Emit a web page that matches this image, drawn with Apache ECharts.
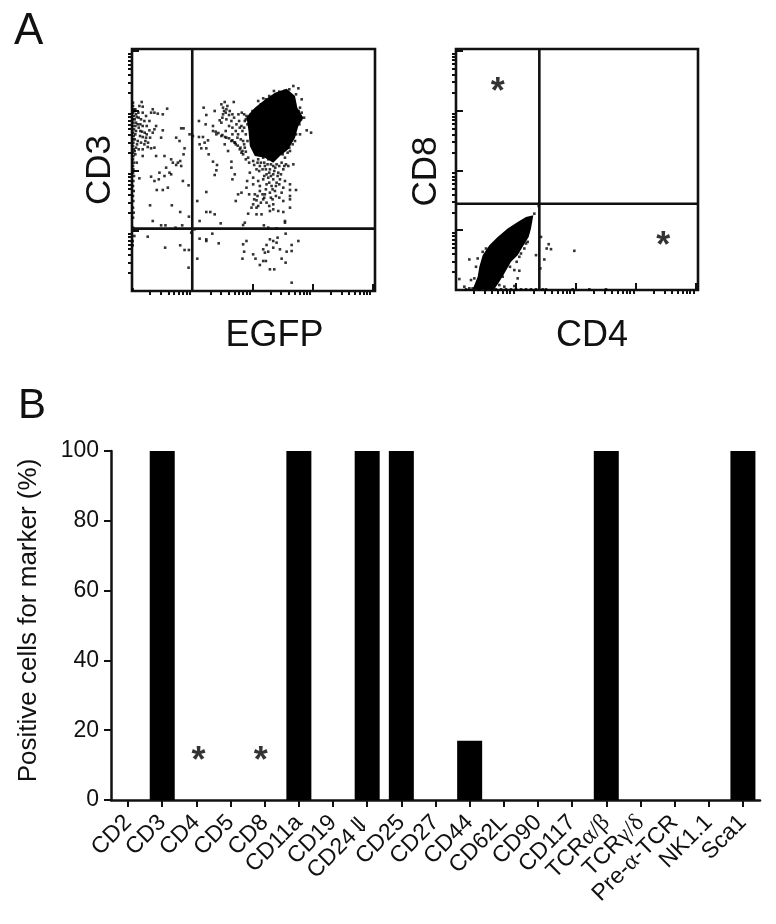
<!DOCTYPE html>
<html>
<head>
<meta charset="utf-8">
<style>
  html, body { margin: 0; padding: 0; background: #fff; }
  #chart { width: 776px; height: 924px; }
</style>
</head>
<body>
<div id="chart"></div>
<script src="https://cdn.jsdelivr.net/npm/echarts@6/dist/echarts.min.js"></script>
<script>
// panel A, flow cytometry channels (180 channels per decade)
const decadeTicks = [0, 180, 360, 540, 720];
const minorSteps = [2, 3, 4, 5, 6, 7, 8, 9];

const egfpGate = 180;
const cd3Gate = 187;
const cd4Gate = 250;
const cd8Gate = 260;

// outline of the solid black population
const egfpCd3Dense = [[462,607],[487,585],[494,550],[512,520],[497,495],[487,460],[467,425],[442,405],[422,385],[397,400],[367,405],[352,435],[348,480],[342,522],[367,550],[392,570],[427,595]];
const cd4Cd8Dense = [[232,225],[225,185],[218,160],[200,130],[185,105],[165,85],[145,50],[130,25],[115,2],[50,2],[65,40],[70,70],[80,105],[100,135],[125,160],[155,185],[185,205],[210,220]];

const egfpCd3Strip = [[3,565],[3,555],[4,545],[3,535],[5,525],[3,515],[4,505],[3,495],[6,485],[3,475],[5,465],[3,455],[4,445],[3,435],[5,425],[3,415],[4,405],[3,395],[5,385],[3,375],[4,365],[3,355],[6,345],[4,330],[3,315],[5,300],[3,285],[4,270],[3,250],[5,235],[3,220],[3,190]];
const egfpCd3Left = [[29,567],[22,555],[32,553],[10,545],[19,535],[32,535],[57,535],[67,535],[77,532],[92,530],[105,547],[62,545],[42,525],[14,522],[27,515],[37,510],[52,510],[17,500],[32,495],[44,495],[72,495],[92,482],[52,482],[12,480],[24,465],[32,462],[42,460],[54,460],[62,475],[87,460],[67,485],[17,450],[27,445],[37,440],[47,432],[57,428],[67,430],[32,425],[12,430],[32,405],[10,410],[14,385],[8,540],[12,530],[8,515],[12,505],[10,495],[20,490],[25,480],[30,478],[38,475],[44,470],[10,470],[8,455],[15,440],[8,420],[20,425],[48,445],[40,450],[25,500],[20,520]];
const egfpCd3Mid = [[132,460],[142,450],[154,488],[147,488],[172,470],[157,428],[154,410],[72,405],[97,405],[117,395],[137,385],[144,390],[147,375],[132,378],[122,385],[102,370],[112,355],[82,355],[97,345],[117,350],[57,343],[67,330],[80,335],[22,338],[107,310],[92,303],[74,303],[152,330],[169,317],[54,257],[119,257],[144,237],[170,223],[62,210],[87,197],[100,197],[130,190],[150,197]];
const egfpCd3Trail = [[200,510],[214,550],[222,528],[220,500],[182,465],[200,462],[212,462],[227,452],[217,445],[207,428],[222,428],[202,440],[247,540],[267,560],[277,567],[272,550],[282,545],[304,567],[292,540],[272,530],[282,515],[297,510],[267,505],[242,495],[242,480],[252,470],[267,465],[282,460],[297,450],[310,440],[324,430],[277,440],[287,420],[229,410],[242,388],[254,378],[252,362],[247,348],[297,388],[297,370],[307,350],[300,335],[222,297],[195,270],[222,237],[234,237],[247,230],[265,203],[310,270],[337,205],[332,198],[250,478],[258,474],[270,468],[278,462],[290,458],[300,452],[306,446],[316,436],[322,425],[330,420],[340,418],[335,440],[345,450],[340,470],[330,480],[322,490],[312,500],[305,520],[300,530],[318,530],[328,535],[335,530],[285,555],[290,528],[280,535],[275,540],[270,520],[262,512],[310,480],[300,490],[290,495],[280,480],[300,470],[325,455],[315,460],[308,445]];
const egfpCd3Cloud = [[332,410],[347,400],[362,390],[377,395],[392,400],[407,395],[422,375],[432,380],[447,385],[457,400],[472,420],[382,375],[397,375],[412,365],[402,350],[422,350],[437,355],[452,365],[467,375],[482,380],[372,365],[352,355],[362,340],[377,330],[392,335],[407,340],[422,335],[442,335],[457,330],[472,320],[344,330],[342,310],[362,320],[382,315],[402,320],[417,315],[432,325],[452,310],[472,303],[490,303],[317,290],[327,295],[350,290],[367,290],[382,300],[397,290],[412,295],[427,300],[447,295],[472,285],[392,275],[372,272],[402,265],[422,260],[452,270],[472,275],[362,260],[377,255],[357,250],[372,250],[422,245],[437,240],[452,237],[472,250],[347,232],[372,230],[387,230],[412,240],[457,205],[457,210],[394,197],[407,190],[432,188],[340,395],[350,385],[365,378],[375,385],[385,385],[395,385],[405,380],[415,380],[428,370],[440,375],[455,375],[460,380],[410,355],[415,345],[425,360],[435,345],[445,350],[400,365],[390,365],[380,360],[395,345],[430,315],[440,320],[410,325],[420,305],[400,305],[390,290],[395,280],[375,285],[385,265],[365,275],[415,280],[430,285],[440,280],[410,255],[420,275]];
const egfpCd3Rim = [[377,570],[392,578],[424,600],[482,615],[497,608],[507,575],[514,520],[522,482],[535,475],[502,550],[507,535],[502,470],[487,450],[342,525],[337,510],[327,495],[317,470],[332,450],[337,430],[327,415],[498,540],[505,515],[500,500],[495,530],[490,470],[480,440],[470,430],[450,410],[465,415],[490,590],[470,605],[455,600],[440,598],[410,585],[400,575],[385,560],[360,540],[355,530],[340,515],[320,510],[345,500],[335,490]];
const egfpCd3Lower = [[7,165],[2,150],[47,163],[2,137],[99,130],[144,137],[157,123],[170,123],[169,70],[195,97],[202,157],[222,155],[222,150],[240,172],[259,143],[177,175],[187,185],[202,210],[342,150],[332,140],[335,118],[330,97],[362,110],[369,97],[382,78],[392,90],[400,90],[412,65],[425,65],[447,97],[459,85],[477,25],[392,125],[397,115],[402,138],[412,155],[422,150],[435,160],[432,145],[422,130],[442,125],[407,118],[477,138],[497,150],[477,120],[462,118],[459,172],[2,5]];

const cd4Cd8Sparse = [[235,230],[215,145],[205,125],[190,100],[182,85],[162,70],[190,58],[175,60],[185,35],[175,12],[140,40],[145,10],[130,15],[65,95],[40,92],[10,33],[25,10],[45,30],[55,35],[40,5],[50,5],[60,70],[255,160],[278,138],[272,125],[285,123],[355,118],[240,105],[265,92],[253,65],[248,253],[350,2],[400,2],[450,2],[260,2],[270,2],[80,115],[90,125],[210,140],[195,110],[30,2],[70,2],[90,2],[105,2],[120,2],[135,2],[150,2],[165,2],[180,2],[195,2],[210,2],[225,2],[240,2]];
const cd4Cd8Stars = [[125,620],[622,156]];

// panel B
const markers = ['CD2','CD3','CD4','CD5','CD8','CD11a','CD19','CD24⇓','CD25','CD27','CD44','CD62L','CD90','CD117','TCRα/β','TCRγ/δ','Pre-α-TCR','NK1.1','Sca1'];
const positive = [0,100,0,0,0,100,0,100,100,0,17,0,0,0,100,0,0,0,100];
const markerStars = [['CD4',13.5],['CD8',13.5]];
const markerStarShift = [2, -4];
const percentTicks = { min: 0, max: 100, interval: 20 };

const minorTicks = [];
decadeTicks.slice(0, 4).forEach(d => {
  minorSteps.forEach(k => minorTicks.push(d + Math.log10(k) * 180));
});

const ink = '#111';
const font = '"Liberation Sans", Arial, sans-serif';
const chart = echarts.init(document.getElementById('chart'));

function flowAxis(gridIndex, ticks, tickLength, name, nameOpts) {
  return Object.assign({
    type: 'value',
    gridIndex,
    min: 0,
    max: 726,
    splitLine: { show: false },
    axisLine: { show: false },
    axisLabel: { show: false },
    axisTick: { show: true, customValues: ticks, length: tickLength, lineStyle: { color: ink, width: 2 } },
    name,
    nameLocation: 'middle',
  }, nameOpts);
}

function dots(data, xAxisIndex, yAxisIndex) {
  return {
    type: 'scatter',
    xAxisIndex,
    yAxisIndex,
    data,
    symbol: 'rect',
    symbolSize: 2.6,
    itemStyle: { color: '#000' },
    silent: true,
  };
}

function denseArea(data, xAxisIndex, yAxisIndex) {
  return {
    type: 'custom',
    xAxisIndex,
    yAxisIndex,
    data,
    silent: true,
    renderItem(params, api) {
      if (params.dataIndex > 0) {
        return null;
      }
      return {
        type: 'polygon',
        shape: { points: data.map(p => api.coord(p)) },
        style: { fill: '#000' },
      };
    },
  };
}

function gateLines(xGate, yGate, xAxisIndex, yAxisIndex) {
  const line = data => ({
    type: 'line',
    xAxisIndex,
    yAxisIndex,
    data,
    symbol: 'none',
    silent: true,
    lineStyle: { color: ink, width: 2.6 },
  });
  return [line([[xGate, 0], [xGate, 726]]), line([[0, yGate], [726, yGate]])];
}

function stars(data, xAxisIndex, yAxisIndex) {
  return {
    type: 'scatter',
    xAxisIndex,
    yAxisIndex,
    data,
    symbolSize: 0,
    silent: true,
    label: {
      show: true,
      position: 'inside',
      formatter: '*',
      fontFamily: font,
      fontSize: 36,
      fontWeight: 'bold',
      color: '#000',
      offset: [0, 9],
    },
  };
}

// greek letters in the original labels are set in a serif face
function markerLabel(value) {
  return value.split(/([αβγδ\/⇓]+)/).map((part, i) => {
    if (!part) {
      return '';
    }
    return i % 2 ? '{g|' + part + '}' : '{r|' + part + '}';
  }).join('');
}

const nameFont = size => ({ fontFamily: font, fontSize: size, color: ink });

chart.setOption({
  animation: false,
  backgroundColor: '#fff',
  textStyle: { fontFamily: font },
  title: [
    { text: 'A', left: 9, top: 5, textStyle: { fontFamily: font, fontSize: 44, fontWeight: 'normal', color: ink } },
    { text: 'B', left: 13, top: 380, textStyle: { fontFamily: font, fontSize: 42, fontWeight: 'normal', color: ink } },
  ],
  grid: [
    { left: 132, top: 49, width: 243, height: 242, show: true, borderColor: ink, borderWidth: 2.6, backgroundColor: 'transparent' },
    { left: 456, top: 49, width: 242, height: 241, show: true, borderColor: ink, borderWidth: 2.6, backgroundColor: 'transparent' },
    { left: 111, top: 451, width: 649, height: 349 },
  ],
  xAxis: [
    flowAxis(0, minorTicks, 4, 'EGFP', { nameGap: 27, nameTextStyle: Object.assign(nameFont(36), { padding: [0, 0, 0, 42] }) }),
    flowAxis(0, decadeTicks, 7),
    flowAxis(1, minorTicks, 4, 'CD4', { nameGap: 28, nameTextStyle: Object.assign(nameFont(36), { padding: [0, 0, 0, 30] }) }),
    flowAxis(1, decadeTicks, 7),
    {
      type: 'category',
      gridIndex: 2,
      data: markers,
      axisLine: { lineStyle: { color: ink, width: 2.5 } },
      axisTick: { show: true, alignWithLabel: true, length: 7, lineStyle: { color: ink, width: 2 } },
      axisLabel: {
        interval: 0,
        rotate: 45,
        margin: 19,
        formatter: markerLabel,
        rich: {
          r: { fontFamily: font, fontSize: 23, color: ink },
          g: { fontFamily: '"Liberation Serif", "DejaVu Serif", serif', fontSize: 24, color: ink },
        },
      },
    },
  ],
  yAxis: [
    flowAxis(0, minorTicks, 4, 'CD3', { nameGap: 14, nameRotate: 90, nameTextStyle: nameFont(35) }),
    flowAxis(0, decadeTicks, 7),
    flowAxis(1, minorTicks, 4, 'CD8', { nameGap: 12, nameRotate: 90, nameTextStyle: Object.assign(nameFont(35), { padding: [0, 0, 0, -4] }) }),
    flowAxis(1, decadeTicks, 7),
    {
      type: 'value',
      gridIndex: 2,
      min: percentTicks.min,
      max: percentTicks.max,
      interval: percentTicks.interval,
      splitLine: { show: false },
      axisLine: { show: true, lineStyle: { color: ink, width: 2.5 } },
      axisTick: { show: true, length: 7, lineStyle: { color: ink, width: 2 } },
      axisLabel: { fontFamily: font, fontSize: 23, color: ink, margin: 12 },
      name: 'Positive cells for marker (%)',
      nameLocation: 'middle',
      nameGap: 69,
      nameTextStyle: Object.assign(nameFont(26), { padding: [0, 0, 0, 10] }),
    },
  ],
  series: [
    denseArea(egfpCd3Dense, 0, 0),
    dots(egfpCd3Strip, 0, 0),
    dots(egfpCd3Left, 0, 0),
    dots(egfpCd3Mid, 0, 0),
    dots(egfpCd3Trail, 0, 0),
    dots(egfpCd3Cloud, 0, 0),
    dots(egfpCd3Rim, 0, 0),
    dots(egfpCd3Lower, 0, 0),
    ...gateLines(egfpGate, cd3Gate, 0, 0),
    denseArea(cd4Cd8Dense, 2, 2),
    dots(cd4Cd8Sparse, 2, 2),
    ...gateLines(cd4Gate, cd8Gate, 2, 2),
    stars(cd4Cd8Stars, 2, 2),
    {
      type: 'bar',
      xAxisIndex: 4,
      yAxisIndex: 4,
      data: positive,
      barWidth: 25,
      itemStyle: { color: '#000' },
    },
    stars(markerStars.map((d, i) => ({ value: d, label: { offset: [markerStarShift[i], 9] } })), 4, 4),
  ],
});
</script>
</body>
</html>
